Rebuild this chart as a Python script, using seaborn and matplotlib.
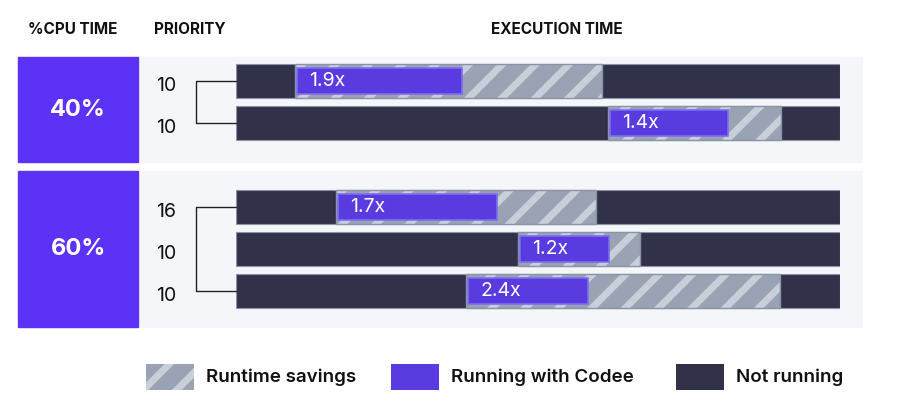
import matplotlib
matplotlib.use("Agg")
import matplotlib.pyplot as plt
import seaborn as sns
from matplotlib.patches import Rectangle

# filas: prioridad, inicio/fin del tramo original, fin con Codee (escala 0-100)
prioridad = ["10", "10", "16", "10", "10"]
fila_y = [0, 1, 3, 4, 5]
inicio = [9.8, 61.6, 16.6, 46.7, 38.1]
fin = [60.6, 90.2, 59.6, 66.9, 90.1]
fin_codee = [37.7, 81.8, 43.5, 62.1, 58.6]
aceleracion = ["1.9x", "1.4x", "1.7x", "1.2x", "2.4x"]
grupos = ["40%", "60%"]

OSCURO = "#32314a"
MORADO = "#5c33f6"
MORADO_BARRA = "#5a3be0"
GRIS = "#9aa3b3"
GRIS_CLARO = "#c9cfd9"
FONDO_PANEL = "#f5f6fa"

sns.set_theme(style="white")
plt.rcParams["font.family"] = ["Inter", "DejaVu Sans"]
plt.rcParams["hatch.linewidth"] = 5

W, H = 906, 407
fig = plt.figure(figsize=(W / 100, H / 100), dpi=100)
fig.patch.set_facecolor("white")


def px(x0, y0, w, h):
    return [x0 / W, 1 - (y0 + h) / H, w / W, h / H]


# capa de fondo con paneles y leyenda
bg = fig.add_axes([0, 0, 1, 1])
bg.set_xlim(0, W)
bg.set_ylim(H, 0)
bg.axis("off")
bg.set_zorder(0)

for y0, h in [(57, 105), (171, 156)]:
    bg.add_patch(Rectangle((140, y0), 722, h, color=FONDO_PANEL))
    bg.add_patch(Rectangle((18, y0), 120, h, color=MORADO))
for g, yc in zip(grupos, [110, 249]):
    bg.text(78, yc, g, color="white", fontsize=17, fontweight="bold", ha="center", va="center")

for txt, xc in [("%CPU TIME", 73), ("PRIORITY", 190), ("EXECUTION TIME", 557)]:
    bg.text(xc, 30, txt, fontsize=11, fontweight="bold", ha="center", va="center", color="#111111")

leyenda = [("Runtime savings", 146, 206, "hatch"), ("Running with Codee", 391, 451, MORADO_BARRA),
           ("Not running", 676, 736, OSCURO)]
for txt, xs, xt, c in leyenda:
    if c == "hatch":
        bg.add_patch(Rectangle((xs, 364), 48, 26, facecolor=GRIS, edgecolor=GRIS_CLARO,
                               linewidth=0, hatch="/"))
    else:
        bg.add_patch(Rectangle((xs, 364), 48, 26, facecolor=c, edgecolor="none"))
    bg.text(xt, 377, txt, fontsize=13.5, fontweight="semibold", ha="left", va="center", color="#111111")

# eje principal: 0..100 -> 236..840 px
unidad = 42
top = 81 - 0.6 * unidad
ax = fig.add_axes(px(236, top, 604, 6.5 * unidad))
ax.set_zorder(2)
ax.set_xlim(0, 100)
ax.set_ylim(5.9, -0.6)
ax.axis("off")
ax.patch.set_alpha(0)

alto = 0.8
ax.barh(fila_y, [100] * 5, left=0, height=alto, color=OSCURO, edgecolor="#8a93a6", linewidth=0.8)
ancho = [f - i for i, f in zip(inicio, fin)]
ax.barh(fila_y, ancho, left=inicio, height=alto, color=GRIS, edgecolor=GRIS_CLARO, linewidth=0, hatch="/")
ax.barh(fila_y, ancho, left=inicio, height=alto, fill=False, edgecolor="#8a93a6", linewidth=1)
ancho_c = [f - i - 0.6 for i, f in zip(inicio, fin_codee)]
ax.barh(fila_y, ancho_c, left=[i + 0.3 for i in inicio], height=alto * 0.78,
        color=MORADO_BARRA, edgecolor="#7b6df2", linewidth=1.2)
for y, i, t in zip(fila_y, inicio, aceleracion):
    ax.text(i + 2.3, y, t, color="white", fontsize=14, va="center", ha="left")

# prioridades y corchetes
for y, p in zip(fila_y, prioridad):
    ax.text(-11.5, y + 0.12, p, fontsize=14, ha="center", va="center", color="#111111", clip_on=False)
xb = -6.6
for a, b in [(0, 1), (3, 5)]:
    ax.plot([0, xb, xb, 0], [a, a, b, b], color="#222222", lw=1, clip_on=False)

fig.savefig("out.png", dpi=100)
